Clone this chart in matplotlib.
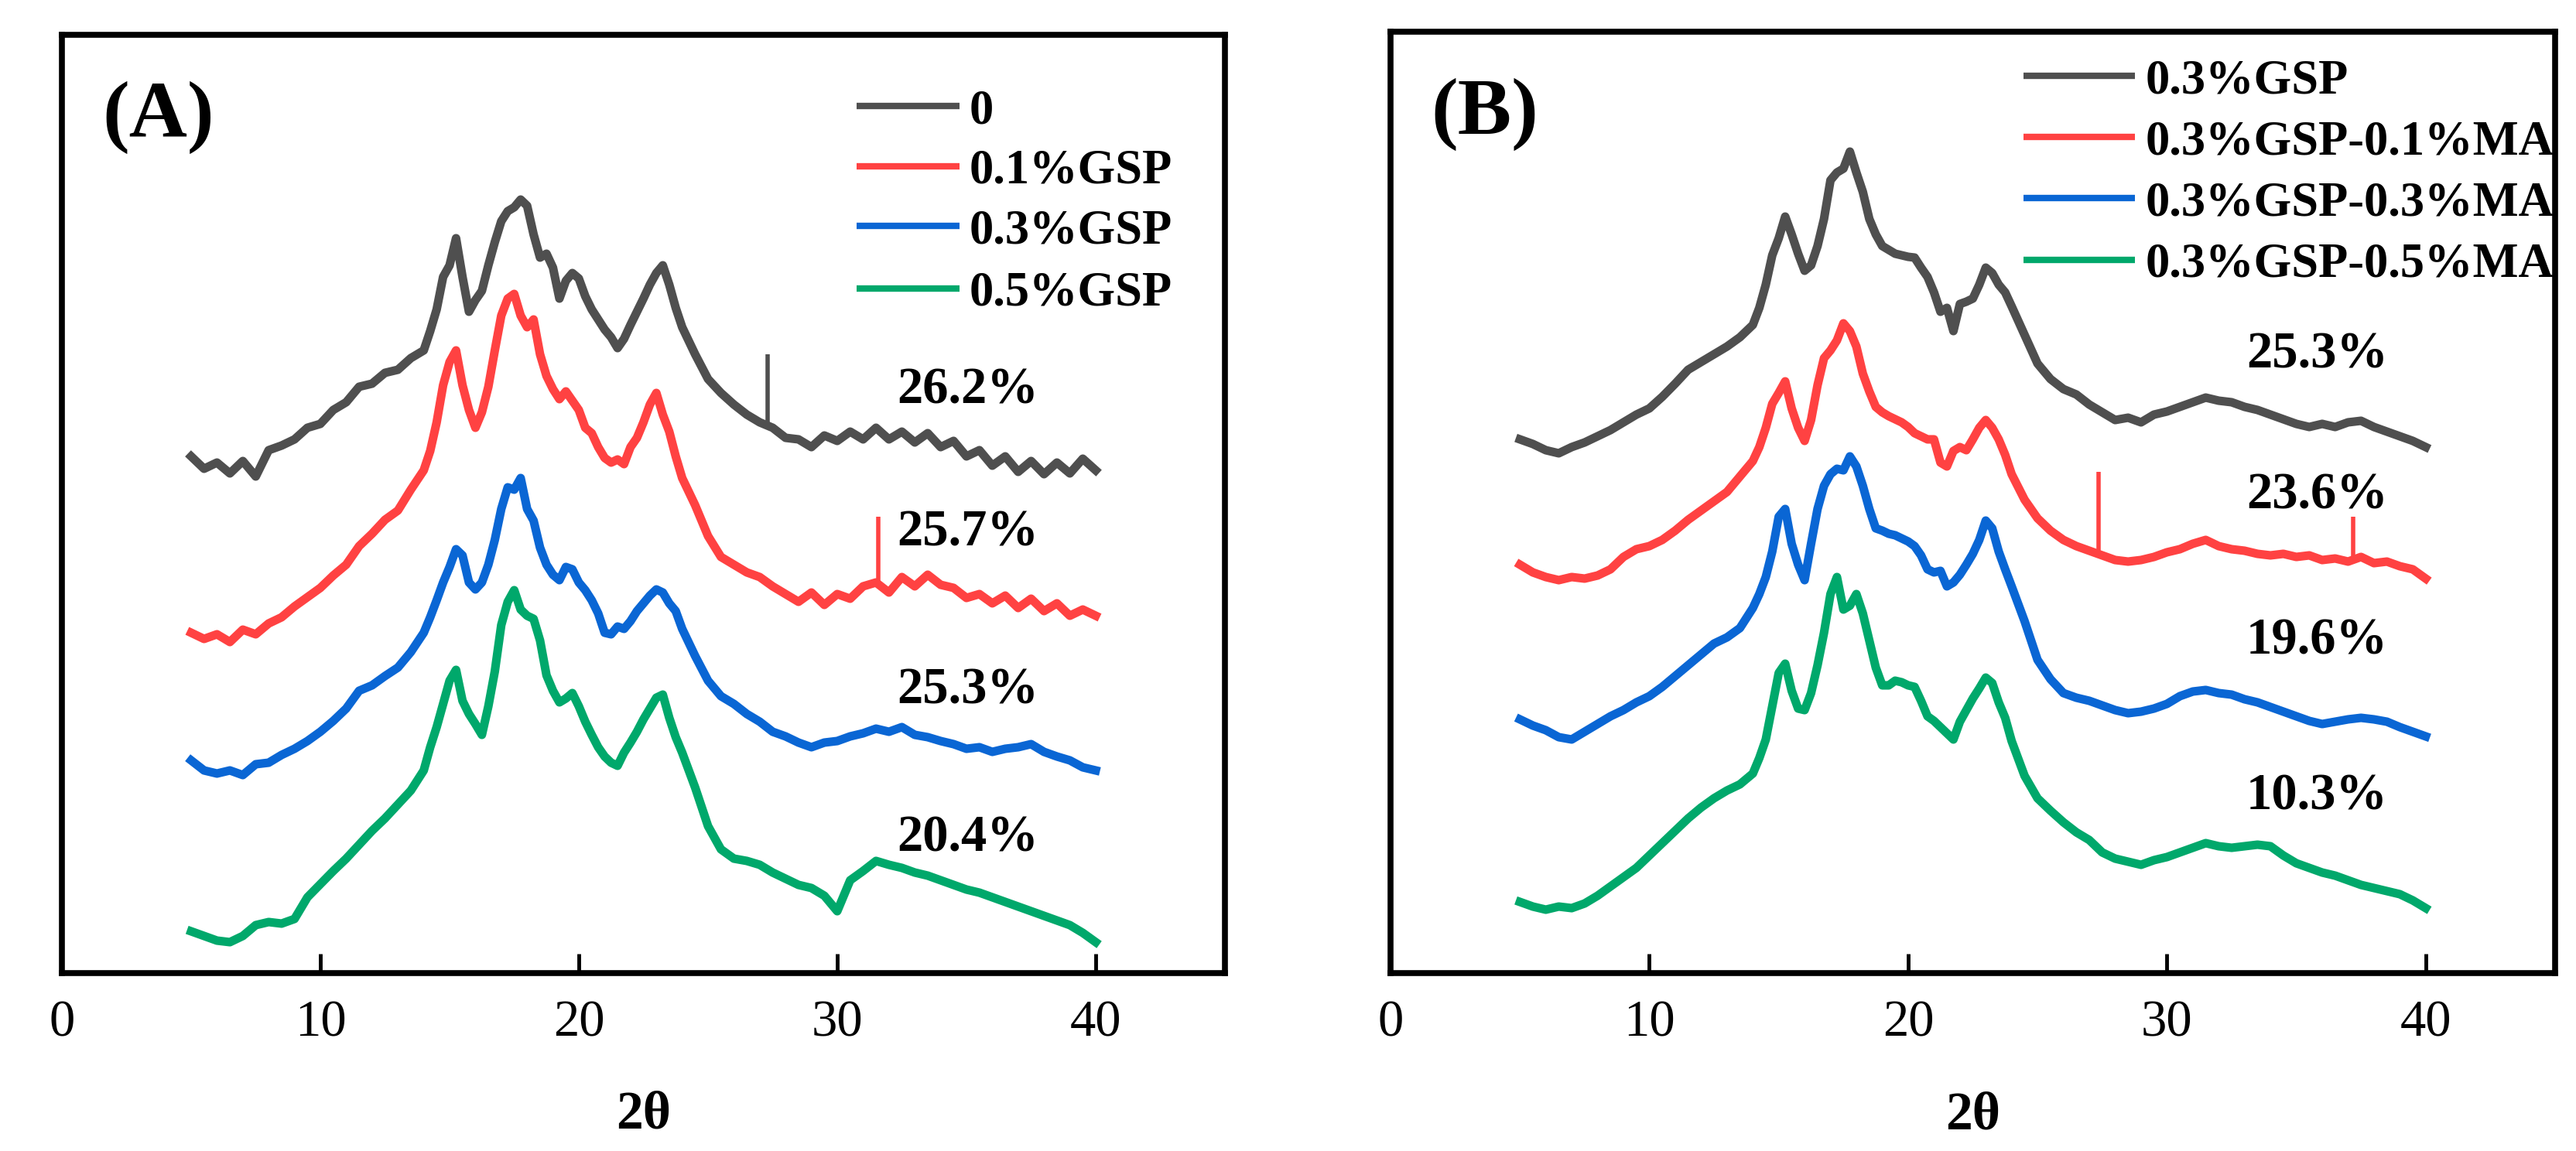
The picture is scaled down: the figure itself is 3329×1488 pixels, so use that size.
import numpy as np
import matplotlib
matplotlib.use("Agg")
import matplotlib.pyplot as plt

plt.rcParams["font.family"] = ["Liberation Serif", "DejaVu Serif"]

# 2-theta grid (finer step across the crystalline peaks)
two_theta = np.concatenate([np.arange(5.0, 14.0, 0.5),
                            np.arange(14.0, 24.01, 0.25),
                            np.arange(24.5, 40.01, 0.5)])

# panel A: GSP content (stacked intensities, a.u.)
a_labels = ["0", "0.1%GSP", "0.3%GSP", "0.5%GSP"]
a_crystallinity = ["26.2%", "25.7%", "25.3%", "20.4%"]
a_text_y = [760, 576, 372, 181]

a_0 = [668, 652, 660, 646, 662, 642, 676, 682, 690, 705, 710, 728, 738, 758, 762, 776, 780, 795,
       805, 830, 858, 900, 915, 950, 900, 855, 870, 882, 915, 945, 972, 985, 990, 1000, 992, 955,
       925, 930, 912, 872, 895, 905, 898, 875, 858, 845, 832, 822, 808, 820, 838, 855, 872, 890,
       905, 915, 890, 860, 835,
       800, 768, 750, 735, 722, 712, 705, 692, 690, 680, 695, 688, 700, 690, 705, 690, 700, 686,
       698, 680, 688, 668, 676, 656, 668, 648, 662, 645, 660, 646, 665, 650]
a_01 = [440, 432, 438, 428, 444, 438, 452, 460, 474, 486, 498, 514, 528, 552, 568, 586, 598, 625,
        650, 675, 712, 760, 790, 805, 760, 728, 705, 725, 758, 805, 850, 872, 878, 850, 835, 845,
        800, 772, 755, 742, 752, 740, 728, 705, 698, 680, 666, 660, 664, 658, 680, 692, 712, 735,
        750, 722, 700, 668, 640,
        605, 565, 538, 528, 518, 512, 500, 490, 480, 492, 476, 490, 484, 500, 505, 492, 512, 500,
        515, 502, 498, 485, 490, 478, 488, 472, 484, 468, 478, 462, 470, 462]
a_03 = [275, 262, 258, 262, 256, 270, 272, 282, 290, 300, 312, 326, 342, 365, 372, 384, 395, 415,
        440, 460, 482, 505, 525, 548, 540, 505, 496, 505, 528, 560, 600, 628, 625, 640, 600, 585,
        550, 528, 515, 508, 525, 522, 505, 495, 482, 465, 440, 438, 448, 445, 455, 468, 478, 488,
        496, 492, 478, 468, 445,
        410, 378, 358, 348, 335, 325, 312, 306, 298, 292, 298, 300, 306, 310, 316, 312, 318, 308,
        305, 300, 296, 290, 292, 286, 290, 292, 296, 286, 280, 275, 266, 262]
a_05 = [54, 48, 42, 40, 48, 62, 66, 64, 70, 98, 115, 132, 148, 166, 184, 200, 218, 236,
        262, 292, 318, 348, 378, 392, 352, 335, 322, 308, 345, 390, 450, 480, 495, 470, 462, 458,
        430, 385, 365, 350, 355, 362, 345, 325, 308, 292, 280, 272, 268, 285, 298, 312, 328, 342,
        356, 360, 330, 305, 285,
        240, 190, 160, 148, 145, 140, 130, 122, 114, 110, 100, 80, 120, 132, 145, 140, 136, 130,
        126, 120, 114, 108, 104, 98, 92, 86, 80, 74, 68, 62, 52, 40]
a_spike_x = [27.3, 31.6]
a_spike_lo = [712, 500]
a_spike_hi = [800, 590]

# panel B: 0.3% GSP with MA content
b_labels = ["0.3%GSP", "0.3%GSP-0.1%MA", "0.3%GSP-0.3%MA", "0.3%GSP-0.5%MA"]
b_crystallinity = ["25.3%", "23.6%", "19.6%", "10.3%"]
b_text_y = [806, 624, 436, 235]

b_0 = [690, 684, 676, 672, 680, 686, 694, 702, 712, 722, 730, 745, 762, 780, 790, 800, 810, 822,
       838, 860, 890, 928, 950, 978, 955, 930, 908, 915, 940, 975, 1025, 1035, 1040, 1062, 1035, 1010,
       975, 955, 940, 935, 930, 928, 926, 925, 912, 900, 880, 855, 860, 830, 865, 868, 872, 890,
       912, 905, 890, 880, 862,
       825, 788, 768, 755, 748, 735, 725, 715, 718, 712, 722, 726, 732, 738, 744, 740, 738, 732,
       728, 722, 716, 710, 706, 710, 706, 712, 714, 706, 700, 694, 688, 680]
b_01 = [528, 518, 512, 508, 512, 510, 514, 522, 538, 548, 552, 560, 572, 586, 598, 610, 622, 642,
        662, 680, 705, 736, 750, 765, 730, 705, 688, 715, 760, 795, 805, 818, 840, 830, 810, 775,
        752, 732, 725, 720, 716, 712, 706, 698, 694, 690, 690, 660, 655, 675, 680, 676, 690, 705,
        715, 705, 690, 670, 645,
        612, 588, 572, 560, 552, 546, 540, 534, 532, 534, 538, 544, 548, 555, 560, 552, 548, 546,
        542, 540, 542, 538, 540, 534, 536, 532, 538, 530, 532, 526, 522, 510]
b_03 = [328, 320, 314, 305, 302, 312, 322, 332, 340, 350, 358, 370, 384, 398, 412, 426, 434, 446,
        472, 490, 512, 545, 590, 600, 555, 528, 508, 555, 600, 630, 645, 652, 650, 668, 655, 630,
        600, 575, 572, 568, 566, 562, 558, 552, 540, 522, 518, 520, 500, 505, 515, 528, 542, 560,
        585, 575, 545, 522, 500,
        455, 405, 380, 362, 356, 352, 346, 340, 336, 338, 342, 348, 358, 364, 366, 362, 360, 354,
        350, 344, 338, 332, 326, 322, 325, 328, 330, 328, 325, 318, 312, 306]
b_05 = [92, 86, 82, 86, 84, 90, 100, 112, 124, 136, 152, 168, 184, 200, 214, 226, 236, 244,
        258, 278, 302, 345, 388, 400, 365, 342, 340, 362, 398, 440, 490, 512, 470, 475, 490, 465,
        430, 395, 372, 372, 378, 376, 372, 370, 352, 332, 326, 318, 310, 302, 325, 340, 355, 368,
        382, 375, 350, 330, 300,
        255, 226, 210, 195, 182, 172, 156, 148, 144, 140, 146, 150, 156, 162, 168, 164, 162, 164,
        166, 164, 152, 142, 136, 130, 126, 120, 114, 110, 106, 102, 94, 84]
b_spike_x = [27.35, 37.2]
b_spike_lo = [545, 535]
b_spike_hi = [648, 590]

colors = ["#4f4f4f", "#ff4242", "#0a66d4", "#00a86b"]
W, H = 3329, 1488


def draw_panel(ax, series, labels, pct, pct_y, pct_x, spikes, tag, leg_x, leg_rows, ymax):
    for y, c in zip(series, colors):
        ax.plot(two_theta, y, color=c, lw=8.0)
    sx, slo, shi, sc = spikes
    ax.vlines(sx, slo, shi, colors=sc, lw=4)
    for t, yy in zip(pct, pct_y):
        ax.text(pct_x, yy, t, ha="center", va="center_baseline", fontsize=48, fontweight="bold")
    ax.text(0.035, 0.912, tag, transform=ax.transAxes, ha="left", va="center",
            fontsize=75, fontweight="bold")

    # legend drawn entry by entry so the row pitch matches the original
    x0, x1, xt = leg_x
    for lab, c, ry in zip(labels, colors, leg_rows):
        ax.plot([x0, x1], [ry, ry], transform=ax.transAxes, color=c, lw=6,
                solid_capstyle="butt", clip_on=False)
        ax.text(xt, ry, lab, transform=ax.transAxes, ha="left", va="center_baseline",
                fontsize=45, fontweight="bold", clip_on=False)

    ax.set_xlim(0, 45)
    ax.set_ylim(0, ymax)
    ax.set_xticks([0, 10, 20, 30, 40])
    ax.set_yticks([])
    ax.tick_params(axis="x", direction="in", length=18, width=3.5, labelsize=48, pad=25)
    for s in ax.spines.values():
        s.set_linewidth(5.5)
        s.set_zorder(5)
    ax.set_xlabel("2θ", fontsize=50, fontweight="bold")
    ax.xaxis.set_label_coords(0.5, -0.125)


fig = plt.figure(figsize=(W / 100, H / 100), dpi=100)
ax1 = fig.add_axes([80 / W, 230 / H, 1503 / W, 1213 / H])
ax2 = fig.add_axes([1797 / W, 230 / H, 1505 / W, 1217 / H])

draw_panel(ax1, [a_0, a_01, a_03, a_05], a_labels, a_crystallinity, a_text_y, 35.06,
           (a_spike_x, a_spike_lo, a_spike_hi, [colors[0], colors[1]]), "(A)",
           (0.683, 0.772, 0.780), [0.924, 0.860, 0.796, 0.730], 1213)
draw_panel(ax2, [b_0, b_01, b_03, b_05], b_labels, b_crystallinity, b_text_y, 35.8,
           (b_spike_x, b_spike_lo, b_spike_hi, [colors[1], colors[1]]), "(B)",
           (0.5435, 0.639, 0.648), [0.953, 0.888, 0.823, 0.758], 1217)

fig.savefig("out.png", dpi=100)
